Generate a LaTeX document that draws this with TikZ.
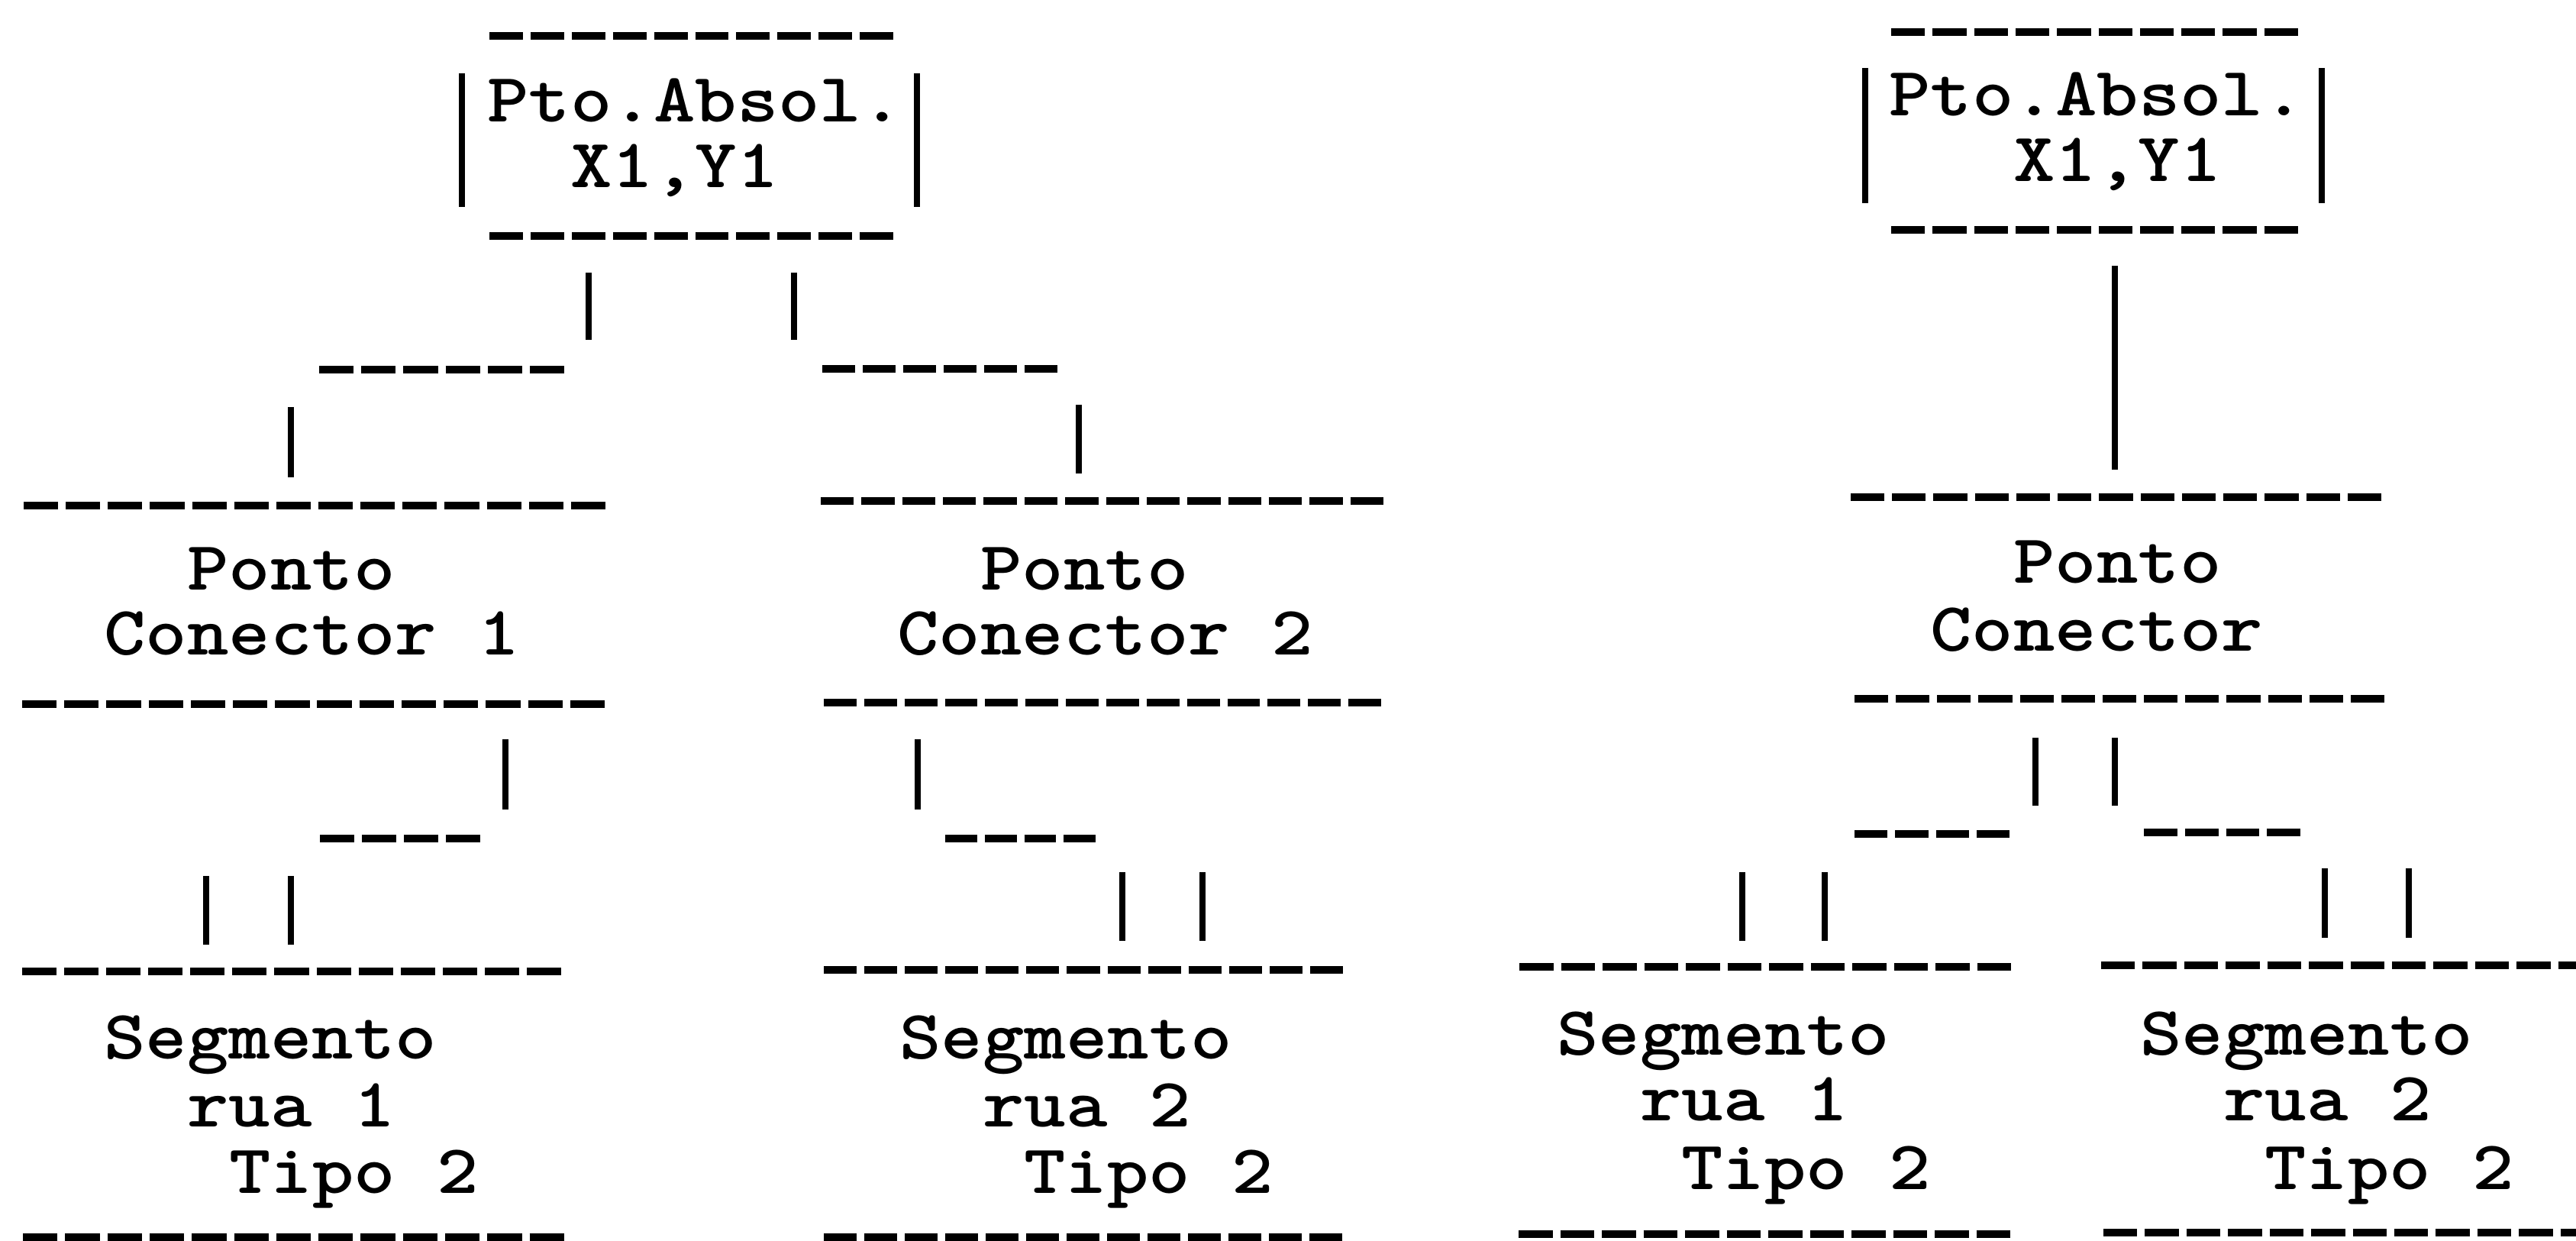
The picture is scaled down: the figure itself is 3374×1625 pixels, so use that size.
\documentclass[tikz,border=0pt]{standalone}
\usepackage{fontspec}
\begin{document}
\begin{tikzpicture}[x=0.1pt,y=-0.1pt,
  txt/.style={font=\ttfamily\bfseries\fontsize{9.1}{10}\selectfont, inner sep=0pt, anchor=base west, xscale=1.14},
  hyph/.style={line width=1pt, line cap=butt},
  vb/.style={line width=0.75pt, line cap=butt}]
\useasboundingbox (0,0) rectangle (3374,1625);
\newcommand\hyrule[4]{%
  \pgfmathsetmacro\hyp{(#2-#1+10)/#4}%
  \pgfmathsetmacro\hyd{(\hyp-10)*0.1}%
  \draw[hyph, dash pattern=on \hyd pt off 1pt] (#1,#3) -- (#2,#3);}
\newcommand\vbarline[3]{\draw[vb] (#1,#2) -- (#1,#3);}

% ---------------- left tree ----------------
\node[txt] (la1) at (636,160) {Pto.Absol.};
\node[txt] (la2) at (745,246) {X1,Y1};
\node[txt] (lc1a) at (243,773) {Ponto};
\node[txt] (lc1b) at (134,858) {Conector 1};
\node[txt] (lc2a) at (1282,773) {Ponto};
\node[txt] (lc2b) at (1173,858) {Conector 2};
\node[txt] (ls1a) at (134,1387) {Segmento};
\node[txt] (ls1b) at (243,1476) {rua 1};
\node[txt] (ls1c) at (298,1563) {Tipo 2};
\node[txt] (ls2a) at (1176,1387) {Segmento};
\node[txt] (ls2b) at (1285,1476) {rua 2};
\node[txt] (ls2c) at (1339,1563) {Tipo 2};

\hyrule{641}{1170}{47}{10}
\hyrule{641}{1170}{309}{10}
\hyrule{418}{739}{484}{6}
\hyrule{1077}{1385}{483}{6}
\hyrule{31}{793}{662}{14}
\hyrule{1075}{1812}{656}{14}
\hyrule{29}{792}{922}{14}
\hyrule{1079}{1809}{920}{14}
\hyrule{419}{629}{1098}{4}
\hyrule{1238}{1435}{1098}{4}
\hyrule{29}{735}{1272}{13}
\hyrule{1079}{1759}{1270}{13}
\hyrule{30}{739}{1620}{13}
\hyrule{1079}{1758}{1620}{13}

\vbarline{605}{96}{271}
\vbarline{1201}{96}{271}
\vbarline{771}{357}{445}
\vbarline{1040}{357}{445}
\vbarline{381}{533}{625}
\vbarline{1413}{530}{620}
\vbarline{662}{968}{1060}
\vbarline{1202}{968}{1060}
\vbarline{270}{1147}{1237}
\vbarline{381}{1147}{1237}
\vbarline{1470}{1142}{1232}
\vbarline{1575}{1142}{1232}

% ---------------- right tree ----------------
\node[txt] (ra1) at (2472,152) {Pto.Absol.};
\node[txt] (ra2) at (2635,238) {X1,Y1};
\node[txt] (rca) at (2635,764) {Ponto};
\node[txt] (rcb) at (2526,853) {Conector};
\node[txt] (rs1a) at (2037,1382) {Segmento};
\node[txt] (rs1b) at (2146,1468) {rua 1};
\node[txt] (rs1c) at (2200,1558) {Tipo 2};
\node[txt] (rs2a) at (2801,1382) {Segmento};
\node[txt] (rs2b) at (2910,1468) {rua 2};
\node[txt] (rs2c) at (2964,1558) {Tipo 2};

\hyrule{2477}{3010}{42}{10}
\hyrule{2477}{3010}{301}{10}
\hyrule{2424}{3119}{651}{13}
\hyrule{2429}{3123}{915}{13}
\hyrule{2429}{2632}{1092}{4}
\hyrule{2808}{3013}{1090}{4}
\hyrule{1990}{2634}{1266}{12}
\hyrule{2752}{3395}{1264}{12}
\hyrule{1989}{2633}{1616}{12}
\hyrule{2755}{3398}{1614}{12}

\vbarline{2443}{89}{266}
\vbarline{3041}{89}{266}
\vbarline{2770}{348}{615}
\vbarline{2666}{966}{1055}
\vbarline{2770}{966}{1055}
\vbarline{2282}{1142}{1232}
\vbarline{2390}{1142}{1232}
\vbarline{3045}{1137}{1228}
\vbarline{3155}{1137}{1228}
\end{tikzpicture}
\end{document}
